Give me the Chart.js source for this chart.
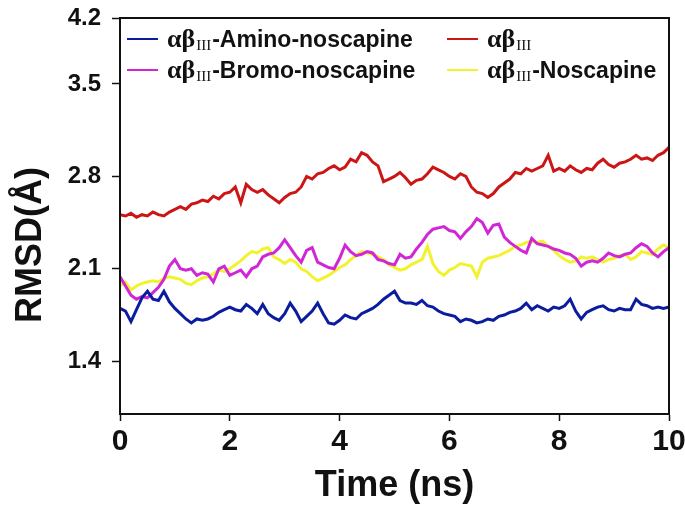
<!DOCTYPE html>
<html>
<head>
<meta charset="utf-8">
<script src="https://cdn.jsdelivr.net/npm/chart.js@4.4.1/dist/chart.umd.min.js"></script>
<style>
  html, body { margin: 0; padding: 0; background: #fff; }
  #wrap { width: 685px; height: 508px; }
</style>
</head>
<body>
<div id="wrap"><canvas id="rmsdChart"></canvas></div>
<script>
// time grid, ns
const times = Array.from({ length: 101 }, (_, i) => i / 10);

// RMSD values (Å), one per 0.1 ns
const aminoNoscapine = [
  1.80, 1.78, 1.70, 1.79, 1.88, 1.93, 1.87, 1.86, 1.93, 1.85,
  1.80, 1.76, 1.72, 1.69, 1.72, 1.71, 1.72, 1.74, 1.77, 1.79,
  1.81, 1.79, 1.78, 1.83, 1.80, 1.76, 1.83, 1.76, 1.73, 1.71,
  1.76, 1.84, 1.78, 1.70, 1.74, 1.78, 1.84, 1.76, 1.69, 1.68,
  1.71, 1.75, 1.73, 1.72, 1.76, 1.78, 1.80, 1.83, 1.87, 1.90,
  1.93, 1.86, 1.84, 1.84, 1.83, 1.86, 1.82, 1.81, 1.78, 1.76,
  1.75, 1.74, 1.70, 1.72, 1.71, 1.69, 1.70, 1.72, 1.71, 1.74,
  1.75, 1.77, 1.78, 1.80, 1.84, 1.79, 1.82, 1.80, 1.78, 1.81,
  1.80, 1.82, 1.87, 1.78, 1.72, 1.77, 1.79, 1.81, 1.82, 1.79,
  1.78, 1.80, 1.79, 1.79, 1.87, 1.83, 1.82, 1.80, 1.81, 1.80,
  1.81
];
const apo = [
  2.51, 2.50, 2.52, 2.49, 2.51, 2.50, 2.53, 2.51, 2.50, 2.53,
  2.55, 2.57, 2.55, 2.59, 2.60, 2.62, 2.61, 2.65, 2.63, 2.67,
  2.68, 2.72, 2.60, 2.74, 2.70, 2.68, 2.70, 2.66, 2.63, 2.60,
  2.64, 2.67, 2.68, 2.72, 2.80, 2.78, 2.82, 2.83, 2.86, 2.88,
  2.85, 2.87, 2.93, 2.91, 2.98, 2.96, 2.91, 2.88, 2.76, 2.78,
  2.80, 2.83, 2.79, 2.74, 2.77, 2.78, 2.82, 2.87, 2.85, 2.83,
  2.80, 2.78, 2.82, 2.80, 2.72, 2.68, 2.67, 2.64, 2.67, 2.72,
  2.75, 2.78, 2.83, 2.82, 2.86, 2.84, 2.86, 2.88, 2.96, 2.84,
  2.86, 2.84, 2.88, 2.85, 2.83, 2.86, 2.85, 2.90, 2.93, 2.89,
  2.87, 2.90, 2.91, 2.93, 2.96, 2.93, 2.94, 2.92, 2.96, 2.98,
  3.02
];
const bromoNoscapine = [
  2.04, 1.97, 1.90, 1.87, 1.89, 1.88, 1.92, 1.96, 2.02, 2.12,
  2.17, 2.10, 2.09, 2.10, 2.05, 2.07, 2.06, 2.00, 2.10, 2.12,
  2.05, 2.07, 2.09, 2.04, 2.10, 2.12, 2.19, 2.21, 2.22, 2.26,
  2.32, 2.26, 2.20, 2.15, 2.24, 2.26, 2.15, 2.13, 2.11, 2.10,
  2.18, 2.28, 2.23, 2.20, 2.21, 2.23, 2.22, 2.17, 2.16, 2.14,
  2.13, 2.21, 2.18, 2.19, 2.25, 2.30, 2.36, 2.40, 2.41, 2.42,
  2.39, 2.38, 2.33, 2.38, 2.42, 2.48, 2.45, 2.37, 2.43, 2.44,
  2.34, 2.30, 2.27, 2.24, 2.22, 2.33, 2.29, 2.28, 2.27, 2.25,
  2.24, 2.22, 2.21, 2.18, 2.12, 2.15, 2.16, 2.15, 2.18, 2.22,
  2.20, 2.19, 2.21, 2.22, 2.26, 2.29, 2.27, 2.22, 2.19, 2.23,
  2.26
];
const noscapine = [
  1.97, 2.00, 1.94, 1.97, 1.99, 2.00, 2.01, 2.00, 2.03, 2.04,
  2.03, 2.02, 1.99, 1.98, 2.01, 2.03, 2.04, 2.06, 2.09, 2.08,
  2.10, 2.13, 2.16, 2.20, 2.23, 2.22, 2.25, 2.26, 2.19, 2.17,
  2.14, 2.17, 2.15, 2.10, 2.08, 2.04, 2.01, 2.03, 2.05, 2.08,
  2.11, 2.13, 2.17, 2.20, 2.23, 2.22, 2.21, 2.19, 2.17, 2.13,
  2.11, 2.09, 2.10, 2.13, 2.15, 2.17, 2.27, 2.14, 2.08, 2.05,
  2.09, 2.11, 2.14, 2.13, 2.12, 2.04, 2.15, 2.18, 2.19, 2.20,
  2.22, 2.24, 2.27, 2.28, 2.30, 2.31, 2.30, 2.31, 2.27, 2.24,
  2.20, 2.17, 2.15, 2.16, 2.19, 2.18, 2.19, 2.17, 2.15, 2.17,
  2.18, 2.20, 2.21, 2.17, 2.19, 2.23, 2.22, 2.21, 2.25, 2.28,
  2.26
];

const xTicks = [0, 2, 4, 6, 8, 10];
const yTickValues = [1.4, 2.1, 2.8, 3.5, 4.0];
const yTickLabels = ['1.4', '2.1', '2.8', '3.5', '4.2'];

const labelSuffixes = ['-Amino-noscapine', '', '-Bromo-noscapine', '-Noscapine'];
const seriesColors = ['#0c1c9e', '#cc1616', '#d026d6', '#f2f22e'];
const seriesValues = [aminoNoscapine, apo, bromoNoscapine, noscapine];

const SANS = '"Liberation Sans", Arial, sans-serif';
const SERIF = '"Liberation Serif", "Times New Roman", serif';

// frame around the plot, rotated y title, and the mixed-font legend
const extras = {
  id: 'extras',
  afterDraw(chart) {
    const { ctx, chartArea: a } = chart;
    ctx.save();
    ctx.strokeStyle = '#111';
    ctx.lineWidth = 2;
    ctx.strokeRect(a.left, a.top, a.right - a.left, a.bottom - a.top);

    ctx.fillStyle = '#111';
    ctx.font = 'bold 36px ' + SANS;
    ctx.textAlign = 'center';
    ctx.textBaseline = 'middle';
    ctx.translate(31, 245);
    ctx.rotate(-Math.PI / 2);
    ctx.fillText('RMSD(Å)', 0, 0);
    ctx.restore();

    // legend, 2 columns x 2 rows
    const cols = [a.left + 7, a.left + 327];
    const rows = [a.top + 21, a.top + 52];
    ctx.save();
    ctx.textAlign = 'left';
    ctx.textBaseline = 'alphabetic';
    chart.data.datasets.forEach((ds, i) => {
      const x = cols[i % 2], y = rows[Math.floor(i / 2)];
      ctx.strokeStyle = ds.borderColor;
      ctx.lineWidth = 2;
      ctx.beginPath();
      ctx.moveTo(x, y);
      ctx.lineTo(x + 31, y);
      ctx.stroke();
      ctx.fillStyle = '#111';
      let tx = x + 40;
      ctx.font = 'bold 26px ' + SERIF;
      ctx.fillText('αβ', tx, y + 8);
      tx += ctx.measureText('αβ').width + 1;
      ctx.font = '15px ' + SERIF;
      ctx.fillText('III', tx, y + 11);
      tx += ctx.measureText('III').width + 1;
      ctx.font = 'bold 23px ' + SANS;
      ctx.fillText(labelSuffixes[i], tx, y + 8);
    });
    ctx.restore();
  }
};

new Chart(document.getElementById('rmsdChart'), {
  type: 'line',
  data: {
    datasets: seriesValues.map((vals, i) => ({
      label: 'αβIII' + labelSuffixes[i],
      data: times.map((t, j) => ({ x: t, y: vals[j] })),
      borderColor: seriesColors[i],
      borderWidth: 3,
      pointRadius: 0,
      tension: 0
    }))
  },
  options: {
    responsive: true,
    maintainAspectRatio: false,
    animation: false,
    layout: { padding: { top: 18, right: 16, left: 0, bottom: 0 } },
    plugins: {
      legend: { display: false },
      tooltip: { enabled: false }
    },
    scales: {
      x: {
        type: 'linear',
        min: 0,
        max: 10,
        afterBuildTicks: s => { s.ticks = xTicks.map(v => ({ value: v })); },
        afterFit: s => { s.height = 94; s.paddingLeft = 0; s.paddingRight = 0; },
        grid: { drawOnChartArea: false, tickLength: 7, tickColor: '#111', tickWidth: 1.5 },
        border: { display: true, color: '#111', width: 2 },
        ticks: {
          color: '#111',
          padding: 3,
          maxRotation: 0,
          font: { family: SANS, size: 30, weight: 'bold' }
        },
        title: {
          display: true,
          text: 'Time (ns)',
          color: '#111',
          padding: { top: 0, bottom: 0 },
          font: { family: SANS, size: 36, weight: 'bold' }
        }
      },
      y: {
        min: 1.0,
        max: 4.0,
        afterBuildTicks: s => { s.ticks = yTickValues.map(v => ({ value: v })); },
        afterFit: s => { s.width = 120; s.paddingTop = 0; s.paddingBottom = 0; },
        grid: { drawOnChartArea: false, tickLength: 8, tickColor: '#111', tickWidth: 1.5 },
        border: { display: true, color: '#111', width: 2 },
        ticks: {
          color: '#111',
          padding: 11,
          font: { family: SANS, size: 24, weight: 'bold' },
          callback: (v, i) => yTickLabels[i]
        }
      }
    }
  },
  plugins: [extras]
});
</script>
</body>
</html>
